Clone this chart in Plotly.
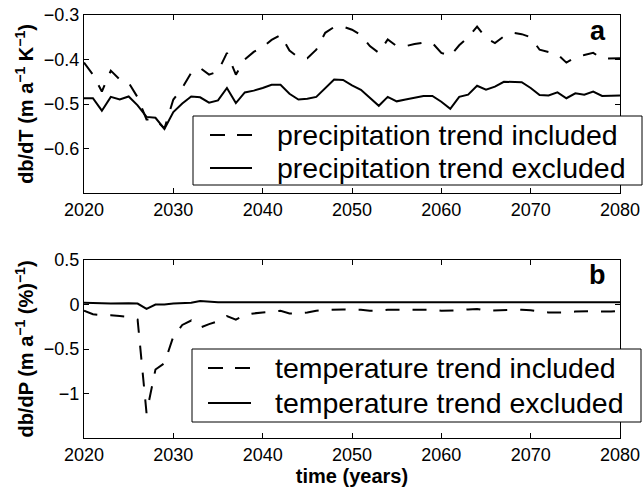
import plotly.graph_objects as go
from plotly.subplots import make_subplots

years = list(range(2020, 2081))

# db/dT (m a^-1 K^-1)
dbdT_precip_incl = [
    -0.407, -0.434, -0.472, -0.425, -0.445, -0.452, -0.485, -0.535, -0.535, -0.555,
    -0.490, -0.464, -0.430, -0.419, -0.434, -0.427, -0.385, -0.434, -0.400, -0.383,
    -0.372, -0.356, -0.345, -0.380, -0.395, -0.397, -0.378, -0.340, -0.327, -0.326,
    -0.333, -0.345, -0.370, -0.385, -0.355, -0.370, -0.370, -0.365, -0.362, -0.363,
    -0.385, -0.392, -0.368, -0.350, -0.326, -0.352, -0.363, -0.348, -0.340, -0.343,
    -0.350, -0.378, -0.383, -0.388, -0.407, -0.395, -0.390, -0.385, -0.398, -0.398,
    -0.397,
]
dbdT_precip_excl = [
    -0.487, -0.487, -0.515, -0.484, -0.490, -0.483, -0.503, -0.529, -0.531, -0.556,
    -0.518, -0.499, -0.483, -0.485, -0.497, -0.492, -0.464, -0.498, -0.474, -0.470,
    -0.464, -0.457, -0.457, -0.477, -0.490, -0.488, -0.484, -0.464, -0.445, -0.446,
    -0.458, -0.468, -0.487, -0.504, -0.484, -0.494, -0.490, -0.486, -0.482, -0.482,
    -0.495, -0.511, -0.484, -0.479, -0.459, -0.468, -0.461, -0.450, -0.450, -0.451,
    -0.464, -0.480, -0.481, -0.474, -0.487, -0.476, -0.479, -0.472, -0.482, -0.482,
    -0.481,
]

# db/dP (m a^-1 (%)^-1)
dbdP_temp_incl = [
    -0.07, -0.11, -0.12, -0.12, -0.13, -0.14, -0.17, -1.22, -0.73, -0.66,
    -0.36, -0.23, -0.18, -0.26, -0.22, -0.19, -0.13, -0.17, -0.12, -0.10,
    -0.09, -0.08, -0.07, -0.10, -0.10, -0.09, -0.07, -0.06, -0.055, -0.055,
    -0.06, -0.06, -0.07, -0.07, -0.06, -0.06, -0.065, -0.065, -0.06, -0.06,
    -0.07, -0.07, -0.065, -0.055, -0.05, -0.07, -0.065, -0.06, -0.06, -0.06,
    -0.065, -0.08, -0.09, -0.09, -0.09, -0.08, -0.075, -0.075, -0.08, -0.08,
    -0.07,
]
dbdP_temp_excl = [
    0.02, 0.02, 0.015, 0.01, 0.015, 0.015, 0.01, -0.05, 0.0, 0.0,
    0.01, 0.015, 0.02, 0.04, 0.03, 0.025, 0.025, 0.025, 0.025, 0.025,
    0.025, 0.025, 0.025, 0.025, 0.025, 0.025, 0.025, 0.025, 0.025, 0.025,
    0.025, 0.025, 0.025, 0.025, 0.025, 0.025, 0.025, 0.025, 0.025, 0.025,
    0.025, 0.025, 0.025, 0.025, 0.025, 0.025, 0.025, 0.03, 0.025, 0.025,
    0.025, 0.025, 0.025, 0.025, 0.025, 0.025, 0.025, 0.025, 0.025, 0.025,
    0.025,
]

x_ticks = [2020, 2030, 2040, 2050, 2060, 2070, 2080]
ya_ticks = [-0.6, -0.5, -0.4, -0.3]
ya_labels = ["\u22120.6", "\u22120.5", "\u22120.4", "\u22120.3"]
yb_ticks = [-1, -0.5, 0, 0.5]
yb_labels = ["\u22121", "\u22120.5", "0", "0.5"]

legend_a = ["precipitation trend included", "precipitation trend excluded"]
legend_b = ["temperature trend included", "temperature trend excluded"]

FONT = "Liberation Sans, Arial, Helvetica, sans-serif"
DASH = "14px,13px"
LEG_DASH = "15px,12px"
LW = 2
W, H = 644, 487


def px(x):
    return x / W


def py(y):
    return 1 - y / H


fig = make_subplots(rows=2, cols=1)

fig.add_trace(go.Scatter(x=years, y=dbdT_precip_incl, mode="lines", name=legend_a[0],
                         line=dict(color="black", width=LW, dash=DASH)), row=1, col=1)
fig.add_trace(go.Scatter(x=years, y=dbdT_precip_excl, mode="lines", name=legend_a[1],
                         line=dict(color="black", width=LW)), row=1, col=1)
fig.add_trace(go.Scatter(x=years, y=dbdP_temp_incl, mode="lines", name=legend_b[0],
                         line=dict(color="black", width=LW, dash=DASH)), row=2, col=1)
fig.add_trace(go.Scatter(x=years, y=dbdP_temp_excl, mode="lines", name=legend_b[1],
                         line=dict(color="black", width=LW)), row=2, col=1)

axis_common = dict(
    showline=True, linecolor="black", linewidth=1, mirror="ticks",
    ticks="inside", ticklen=5, tickcolor="black", showgrid=False,
    zeroline=False, automargin=False,
    tickfont=dict(family=FONT, size=18, color="black"),
)
fig.update_xaxes(**axis_common, range=[2020, 2080], tickvals=x_ticks,
                 domain=[px(84), px(620)])
fig.update_yaxes(**axis_common)

title_font = dict(family=FONT, size=20, color="black")
fig.update_layout(
    xaxis=dict(anchor="y"),
    xaxis2=dict(anchor="y2",
                title=dict(text="<b>time (years)</b>", standoff=3, font=title_font)),
    yaxis=dict(domain=[py(193), py(15)], range=[-0.7, -0.3],
               tickvals=ya_ticks, ticktext=ya_labels,
               title=dict(text="<b>db/dT (m a<sup>\u22121</sup> K<sup>\u22121</sup>)</b>",
                          standoff=4, font=title_font)),
    yaxis2=dict(domain=[py(438), py(260)], range=[-1.5, 0.5],
                tickvals=yb_ticks, ticktext=yb_labels,
                title=dict(text="<b>db/dP (m a<sup>\u22121</sup> (%)<sup>\u22121</sup>)</b>",
                           standoff=4, font=title_font)),
    width=W, height=H,
    margin=dict(l=0, r=0, t=0, b=0),
    paper_bgcolor="white", plot_bgcolor="white",
    showlegend=False,
    font=dict(family=FONT, color="black"),
)

# Legend boxes with line samples and labels
shapes = []
annotations = []
legend_specs = [
    # box (x0, y0, x1, y1), sample x-range, row centres, text x, labels
    ((193, 116, 642, 185), (210, 252), (135, 168), 275, legend_a),
    ((192, 349, 641, 422), (208, 251), (368, 403), 273, legend_b),
]
for (bx0, by0, bx1, by1), (sx0, sx1), rows, tx, labels in legend_specs:
    shapes.append(dict(type="rect", xref="paper", yref="paper",
                       x0=px(bx0), x1=px(bx1), y0=py(by1), y1=py(by0),
                       line=dict(color="black", width=1), fillcolor="white",
                       layer="above"))
    for i, (ry, label) in enumerate(zip(rows, labels)):
        shapes.append(dict(type="line", xref="paper", yref="paper",
                           x0=px(sx0), x1=px(sx1), y0=py(ry), y1=py(ry),
                           line=dict(color="black", width=LW,
                                     dash=LEG_DASH if i == 0 else "solid"),
                           layer="above"))
        annotations.append(dict(text=label, xref="paper", yref="paper",
                                x=px(tx), y=py(ry), xanchor="left", yanchor="middle",
                                showarrow=False,
                                font=dict(family=FONT, size=28.5, color="black")))

# Panel letters
annotations.append(dict(text="<b>a</b>", xref="paper", yref="paper",
                        x=px(608), y=py(31), xanchor="right", yanchor="middle",
                        showarrow=False, font=dict(family=FONT, size=27, color="black")))
annotations.append(dict(text="<b>b</b>", xref="paper", yref="paper",
                        x=px(608), y=py(275), xanchor="right", yanchor="middle",
                        showarrow=False, font=dict(family=FONT, size=27, color="black")))

fig.update_layout(shapes=shapes, annotations=annotations)

fig.write_html("out.html")
